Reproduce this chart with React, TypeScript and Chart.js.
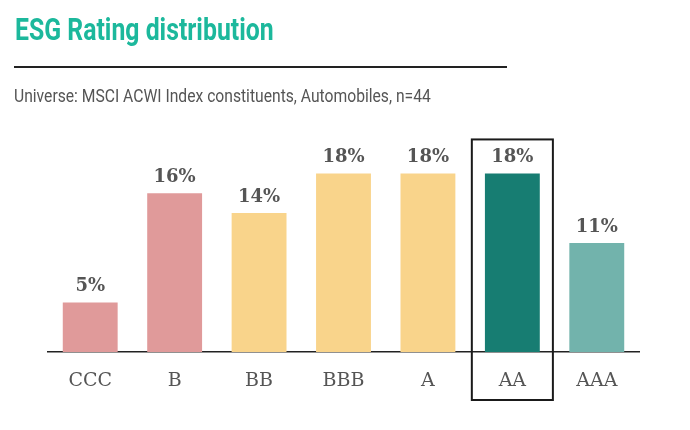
import { useEffect, useRef } from 'react';
import { Chart, registerables } from 'chart.js';

Chart.register(...registerables);

const ratings = ['CCC', 'B', 'BB', 'BBB', 'A', 'AA', 'AAA'];
const shares = [5, 16, 14, 18, 18, 18, 11];
const barColors = [
  '#e09a9a', // laggard
  '#e09a9a',
  '#f9d48b', // average
  '#f9d48b',
  '#f9d48b',
  '#177d72', // leader (highlighted)
  '#72b3ac',
];
const highlight = 'AA';

const serif = '"DejaVu Serif", "Liberation Serif", serif';

// value labels above each bar
const valueLabels = {
  id: 'valueLabels',
  afterDatasetsDraw(chart: any) {
    const { ctx } = chart;
    const meta = chart.getDatasetMeta(0);
    ctx.save();
    ctx.font = `bold 18px ${serif}`;
    ctx.fillStyle = '#555555';
    ctx.textAlign = 'center';
    ctx.textBaseline = 'alphabetic';
    meta.data.forEach((bar: any, i: number) => {
      ctx.fillText(`${shares[i]}%`, bar.x, bar.y - 11);
    });
    ctx.restore();
  },
};

// box around the highlighted rating
const highlightBox = {
  id: 'highlightBox',
  afterDraw(chart: any) {
    const idx = ratings.indexOf(highlight);
    if (idx < 0) return;
    const { ctx, chartArea } = chart;
    const x = chart.scales.x;
    const y = chart.scales.y;
    const step = x.getPixelForValue(1) - x.getPixelForValue(0);
    const cx = x.getPixelForValue(idx);
    const top = y.getPixelForValue(shares[idx]) - 34;
    const bottom = chartArea.bottom + 48;
    ctx.save();
    ctx.strokeStyle = '#1a1a1a';
    ctx.lineWidth = 2;
    ctx.strokeRect(cx - step * 0.48, top, step * 0.96, bottom - top);
    ctx.restore();
  },
};

function RatingChart() {
  const canvasRef = useRef<HTMLCanvasElement>(null);

  useEffect(() => {
    if (!canvasRef.current) return;
    const chart = new Chart(canvasRef.current, {
      type: 'bar',
      data: {
        labels: ratings,
        datasets: [
          {
            data: shares,
            backgroundColor: barColors,
            borderWidth: 0,
            barPercentage: 0.65,
            categoryPercentage: 1,
          },
        ],
      },
      options: {
        animation: false,
        responsive: true,
        maintainAspectRatio: false,
        layout: { padding: { left: 48, right: 51, top: 104, bottom: 38 } },
        plugins: {
          legend: { display: false },
          tooltip: { enabled: false },
        },
        scales: {
          x: {
            grid: { display: false },
            border: { display: true, color: '#222222', width: 1.5 },
            ticks: {
              color: '#555555',
              font: { family: serif, size: 19 },
              padding: 10,
            },
            afterFit(scale: any) {
              scale.height = 40;
            },
          },
          y: {
            display: false,
            min: 0,
            max: 25,
          },
        },
      },
      plugins: [valueLabels, highlightBox],
    });
    return () => chart.destroy();
  }, []);

  return <canvas ref={canvasRef} />;
}

export default function App() {
  useEffect(() => {
    document.body.style.margin = '0';
  }, []);

  return (
    <div style={{ position: 'relative', width: 690, height: 430, background: '#ffffff', overflow: 'hidden' }}>
      <div style={{ position: 'absolute', inset: 0 }}>
        <RatingChart />
      </div>
      <div
        style={{
          position: 'absolute',
          left: 15,
          top: 14,
          font: '700 31px Roboto, sans-serif',
          lineHeight: '31px',
          color: '#1cb89c',
          whiteSpace: 'nowrap',
          transform: 'scaleX(0.8)',
          transformOrigin: 'left top',
        }}
      >
        ESG Rating distribution
      </div>
      <div style={{ position: 'absolute', left: 14, top: 66, width: 493, height: 2, background: '#222222' }} />
      <div
        style={{
          position: 'absolute',
          left: 14,
          top: 87,
          font: '400 18px Roboto, sans-serif',
          lineHeight: '18px',
          color: '#555555',
          whiteSpace: 'nowrap',
          transform: 'scaleX(0.87)',
          transformOrigin: 'left top',
        }}
      >
        Universe: MSCI ACWI Index constituents, Automobiles, n=44
      </div>
    </div>
  );
}
